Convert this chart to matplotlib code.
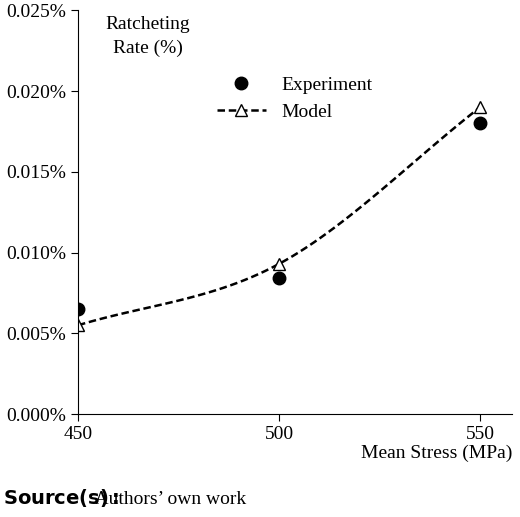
import numpy as np
import matplotlib.pyplot as plt
from matplotlib.ticker import FuncFormatter
from matplotlib.lines import Line2D

stress = [450, 500, 550]
experiment = [0.0065, 0.0084, 0.0180]
model = [0.0055, 0.0093, 0.0190]

plt.rcParams['font.family'] = ['Liberation Serif']
fig = plt.figure(figsize=(5.2, 5.17), dpi=100)
ax = fig.add_axes([0.15, 0.199, 0.835, 0.781])

# smooth curve through model points (Catmull-Rom style drawing)
xs, ys = np.array(stress, float), np.array(model, float)
cx, cy = [], []
px = np.concatenate([[2 * xs[0] - xs[1]], xs, [2 * xs[-1] - xs[-2]]])
py = np.concatenate([[2 * ys[0] - ys[1]], ys, [2 * ys[-1] - ys[-2]]])
t = np.linspace(0, 1, 30)
for i in range(1, len(px) - 2):
    for p, c in ((px, cx), (py, cy)):
        p0, p1, p2, p3 = p[i - 1:i + 3]
        c.extend(0.5 * (2 * p1 + (-p0 + p2) * t + (2 * p0 - 5 * p1 + 4 * p2 - p3) * t**2
                        + (-p0 + 3 * p1 - 3 * p2 + p3) * t**3))
ax.plot(cx, cy, color='black', lw=1.8, dashes=(3, 1.5))
ax.plot(stress, model, ls='None', marker='^', ms=9, mfc='white', mec='black', mew=1)
ax.plot(stress, experiment, 'o', color='black', ms=9)

handles = [Line2D([], [], ls='None', marker='o', color='black', ms=9),
           Line2D([], [], color='black', lw=1.8, dashes=(3, 1.5), marker='^', ms=9,
                  mfc='white', mec='black', mew=1)]
ax.legend(handles, ['Experiment', 'Model'], loc='upper left', bbox_to_anchor=(0.28, 0.88),
          frameon=False, fontsize=14, handlelength=2.5)

ax.set_xlim(450, 558)
ax.set_ylim(0, 0.025)
ax.set_xticks(stress)
ax.set_yticks(np.arange(0, 0.0251, 0.005))
ax.yaxis.set_major_formatter(FuncFormatter(lambda v, p: f'{v:.3f}%'))
ax.tick_params(labelsize=14, direction='out', length=5)
for s in ['top', 'right']:
    ax.spines[s].set_visible(False)
ax.text(0.16, 0.985, 'Ratcheting\nRate (%)', transform=ax.transAxes, fontsize=14,
        ha='center', va='top', linespacing=1.5)
fig.text(0.985, 0.115, 'Mean Stress (MPa)', fontsize=14, ha='right')
fig.text(0.005, 0.025, r'$\mathbf{Source(s):}$', fontsize=14)
fig.text(0.005, 0.025, '                   Authors\u2019 own work', fontsize=14)
fig.savefig('out.png')
